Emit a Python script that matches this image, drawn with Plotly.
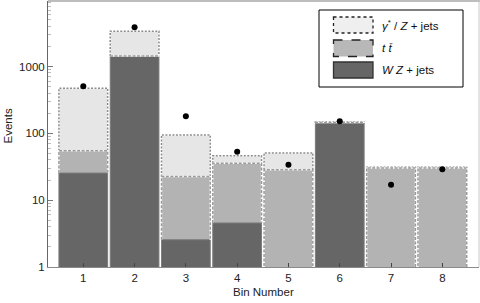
import plotly.graph_objects as go

# ---- data ----
bins = [1, 2, 3, 4, 5, 6, 7, 8]
wz_jets = [25.5, 1420, 2.56, 4.56, 0, 143, 0, 0]          # W Z + jets
ttbar = [29.5, 10, 20, 31, 28.6, 2, 30.4, 30.4]            # t tbar
gz_jets = [418, 1945, 72, 10.5, 22.4, 3, 0.6, 0.6]         # gamma*/Z + jets
observed = [507, 3875, 180, 53, 34, 152, 17, 29]
x_ticks = [1, 2, 3, 4, 5, 6, 7, 8]
y_ticks = [1, 10, 100, 1000]
y_tick_text = ["1", "10", "100", "1000"]

# cumulative stacks
c_wz = list(wz_jets)
c_tt = [a + b for a, b in zip(wz_jets, ttbar)]
c_all = [a + b for a, b in zip(c_tt, gz_jets)]

W = 0.95
FLOOR = 0.3
FONT = "Liberation Sans"
FS = 11.5

fig = go.Figure()

def bar(vals, color, lc, lw):
    fig.add_trace(go.Bar(
        x=bins, y=[v if v > 0 else None for v in vals], width=W,
        marker=dict(color=color, line=dict(color=lc, width=lw)),
        showlegend=False, hoverinfo="skip"))

bar(c_all, "#e6e6e6", "#e6e6e6", 0)
bar(c_tt, "#b3b3b3", "#b3b3b3", 0)
bar(c_wz, "#666666", "#7e7e7e", 1)

def outline(lower, upper, color, dash):
    xs, ys = [], []
    for b, lo, hi in zip(bins, lower, upper):
        lo = lo if lo > FLOOR else FLOOR
        if hi <= lo:
            continue
        x0, x1 = b - W / 2, b + W / 2
        xs += [x0, x0, x1, x1, None]
        ys += [lo, hi, hi, lo, None]
    for c, d, w in (("white", "solid", 1.5), (color, dash, 1.5)):
        fig.add_trace(go.Scatter(x=xs, y=ys, mode="lines",
                                 line=dict(color=c, width=w, dash=d),
                                 showlegend=False, hoverinfo="skip"))

outline(c_tt, c_all, "#8c8c8c", "2px,1.5px")
outline(c_wz, c_tt, "#9a9a9a", "3px,1.5px")

fig.add_trace(go.Scatter(x=bins, y=observed, mode="markers",
                         marker=dict(color="black", size=6),
                         showlegend=False, hoverinfo="skip"))

minor_vals = [m * 10 ** k for k in range(0, 4) for m in range(2, 10)]

fig.update_xaxes(range=[0.312, 8.715], tickvals=x_ticks, automargin=False,
                 ticks="inside", ticklen=4, tickcolor="#444", tickwidth=1,
                 showline=True, linecolor="#8a8a8a", linewidth=1,
                 showgrid=False, zeroline=False, layer="above traces",
                 tickfont=dict(family=FONT, size=FS, color="#222"))
fig.update_yaxes(type="log", range=[0, 3.98], tickvals=y_ticks,
                 ticktext=y_tick_text, automargin=False,
                 ticks="inside", ticklen=5, tickcolor="#777", tickwidth=1,
                 minor=dict(tickvals=minor_vals, ticks="inside", ticklen=3,
                            tickcolor="#bbb", tickwidth=1),
                 showline=True, linecolor="#666", linewidth=1,
                 showgrid=False, zeroline=False, layer="above traces",
                 tickfont=dict(family=FONT, size=FS, color="#222"))

# pixel -> paper helpers for the legend box and axis titles
L, R, T, B = 48, 479, 1, 267
def px(x):
    return (x - L) / (R - L)
def py(y):
    return (B - y) / (B - T)

shapes = [
    # top / right frame
    dict(type="line", xref="paper", yref="paper", x0=px(48), x1=px(480), y0=py(1), y1=py(1),
         line=dict(color="#bdbdbd", width=2)),
    dict(type="line", xref="paper", yref="paper", x0=px(479), x1=px(479), y0=py(1), y1=py(267),
         line=dict(color="#c8c8c8", width=1)),
    # legend box
    dict(type="rect", xref="paper", yref="paper", x0=px(319), x1=px(463), y0=py(10), y1=py(87),
         fillcolor="white", line=dict(color="black", width=1)),
]
sw = [("#efefef", "dot", 17, 33), ("#b8b8b8", "dash", 40, 56.5), ("#666666", "solid", 62, 78)]
for col, dash, y0, y1 in sw:
    shapes.append(dict(type="rect", xref="paper", yref="paper", x0=px(333.5), x1=px(373),
                       y0=py(y0), y1=py(y1), fillcolor=col,
                       line=dict(color="#222" if dash != "solid" else "#333", width=1.3, dash=dash)))

labels = ["<i>γ</i><sup>*</sup> / <i>Z</i> + jets", "<i>t</i> <i>t̄</i>", "<i>W Z</i> + jets"]
annotations = []
for (col, dash, y0, y1), lab in zip(sw, labels):
    annotations.append(dict(xref="paper", yref="paper", x=px(380), y=py((y0 + y1) / 2),
                            xanchor="left", yanchor="middle", showarrow=False, text=lab,
                            font=dict(family=FONT, size=FS, color="#111")))

# axis titles
annotations.append(dict(xref="paper", yref="paper", x=0.5, y=py(292),
                        xanchor="center", yanchor="middle", showarrow=False,
                        text="Bin Number", font=dict(family=FONT, size=FS, color="#222")))
annotations.append(dict(xref="paper", yref="paper", x=px(7.5), y=py(126),
                        xanchor="center", yanchor="middle", showarrow=False, textangle=-90,
                        text="Events", font=dict(family=FONT, size=FS, color="#222")))

fig.update_layout(width=480, height=303, barmode="overlay",
                  margin=dict(l=L, r=480 - R, t=T, b=303 - B),
                  plot_bgcolor="white", paper_bgcolor="white",
                  shapes=shapes, annotations=annotations)

fig.write_html("out.html", config={"displayModeBar": False},
               post_script="document.body.style.margin='0';document.body.style.overflow='hidden';")
